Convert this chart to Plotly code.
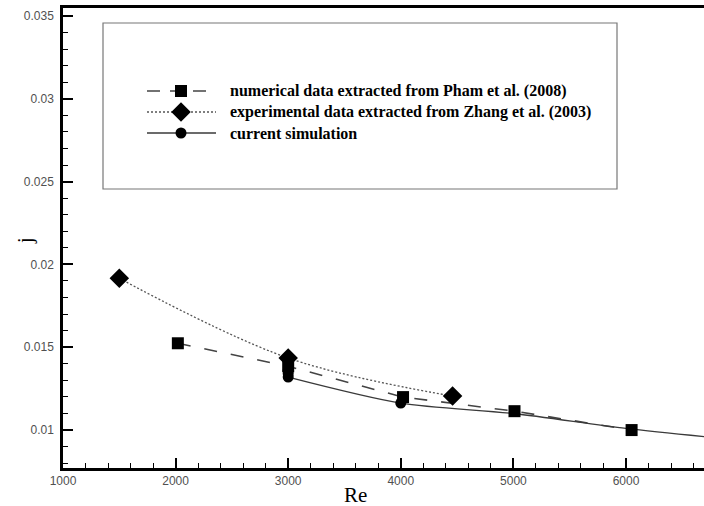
import plotly.graph_objects as go

# ---- data ----
pham_re = [2020, 3000, 4020, 5010, 6050]
pham_j = [0.01524, 0.01385, 0.01199, 0.01114, 0.01000]

zhang_re = [1500, 3000, 4460]
zhang_j = [0.01916, 0.01435, 0.01205]

sim_marker_re = [3000, 3000, 3000, 4000]
sim_marker_j = [0.01360, 0.01340, 0.01320, 0.01163]
sim_line_re = [3000, 4000, 5000, 6000, 7000]
sim_line_j = [0.01320, 0.01163, 0.01100, 0.01010, 0.00940]

x_ticks = [1000, 2000, 3000, 4000, 5000, 6000]
y_ticks = [0.01, 0.015, 0.02, 0.025, 0.03, 0.035]
y_tick_text = ["0.01", "0.015", "0.02", "0.025", "0.03", "0.035"]

legend_labels = [
    "numerical data extracted from Pham et al. (2008)",
    "experimental data extracted from Zhang et al. (2003)",
    "current simulation",
]

LINE = "#3a3a3a"

fig = go.Figure()

# data traces
fig.add_trace(go.Scatter(x=zhang_re, y=zhang_j, mode="lines", line=dict(color="#555555", width=1.3, dash="2px,2px", shape="spline", smoothing=1.0), showlegend=False))
fig.add_trace(go.Scatter(x=pham_re, y=pham_j, mode="lines", line=dict(color="#444444", width=1.6, dash="13px,14px"), showlegend=False))
fig.add_trace(go.Scatter(x=sim_line_re, y=sim_line_j, mode="lines", line=dict(color=LINE, width=1.3, shape="spline", smoothing=0.8), showlegend=False))
fig.add_trace(go.Scatter(x=sim_marker_re, y=sim_marker_j, mode="markers", marker=dict(symbol="circle", size=11, color="black"), showlegend=False))
fig.add_trace(go.Scatter(x=pham_re, y=pham_j, mode="markers", marker=dict(symbol="square", size=12, color="black"), showlegend=False))
fig.add_trace(go.Scatter(x=zhang_re, y=zhang_j, mode="markers", marker=dict(symbol="diamond", size=15, color="black"), showlegend=False))

# ---- hand-drawn legend (overlay axes in 0..1 plot-area units) ----
L, R, T, B = 63, 704, 8, 468
def px(X):
    return (X - L) / (R - L)
def py(Y):
    return (B - Y) / (B - T)

rows = [py(91), py(112), py(133)]
x0, xc, x1 = px(147), px(181), px(216)
fig.add_trace(go.Scatter(x=[x0, x1], y=[rows[0]] * 2, xaxis="x2", yaxis="y2", mode="lines",
                         line=dict(color="#444444", width=1.6, dash="13px,10px"), showlegend=False))
fig.add_trace(go.Scatter(x=[x0, x1], y=[rows[1]] * 2, xaxis="x2", yaxis="y2", mode="lines",
                         line=dict(color="#555555", width=1.3, dash="2px,2px"), showlegend=False))
fig.add_trace(go.Scatter(x=[x0, x1], y=[rows[2]] * 2, xaxis="x2", yaxis="y2", mode="lines",
                         line=dict(color=LINE, width=1.3), showlegend=False))
for r, sym, sz in zip(rows, ["square", "diamond", "circle"], [12, 15, 11]):
    fig.add_trace(go.Scatter(x=[xc], y=[r], xaxis="x2", yaxis="y2", mode="markers",
                             marker=dict(symbol=sym, size=sz, color="black"), showlegend=False))

annotations = []
for r, lab in zip(rows, legend_labels):
    annotations.append(dict(x=px(228), y=r, xref="paper", yref="paper", text="<b>" + lab + "</b>",
                            showarrow=False, xanchor="left", yanchor="middle",
                            font=dict(family="Liberation Serif", size=16, color="black")))
annotations.append(dict(x=px(355), y=(B - 495) / (B - T), xref="paper", yref="paper", text="Re",
                        showarrow=False, xanchor="center", yanchor="middle",
                        font=dict(family="Liberation Serif", size=21, color="black")))
annotations.append(dict(x=(25 - L) / (R - L), y=py(241), xref="paper", yref="paper", text="j",
                        showarrow=False, xanchor="center", yanchor="middle", textangle=-90,
                        font=dict(family="Liberation Serif", size=20, color="black")))

shapes = [dict(type="rect", xref="paper", yref="paper", x0=px(103), x1=px(617), y0=py(189), y1=py(23),
               line=dict(color="#777777", width=1.2), fillcolor="rgba(0,0,0,0)")]

fig.update_layout(
    width=704, height=506,
    margin=dict(l=L, r=0, t=T, b=506 - B, pad=0),
    paper_bgcolor="white", plot_bgcolor="white",
    showlegend=False,
    annotations=annotations, shapes=shapes,
    xaxis=dict(range=[1000, 6693], tickvals=x_ticks, ticks="inside", ticklen=10, tickwidth=2,
               tickcolor="black", showline=True, linecolor="black", linewidth=2.5, mirror=True,
               showgrid=False, zeroline=False,
               tickfont=dict(family="Liberation Sans", size=12, color="#505050"),
               minor=dict(dtick=200, tick0=1000, ticks="inside", ticklen=5, tickwidth=1, tickcolor="black", showgrid=False)),
    yaxis=dict(range=[0.00771, 0.03548], tickvals=y_ticks, ticktext=y_tick_text, ticks="inside", ticklen=10,
               tickwidth=2, tickcolor="black", showline=True, linecolor="black", linewidth=2.5,
               showgrid=False, zeroline=False, ticklabelstandoff=4,
               tickfont=dict(family="Liberation Sans", size=12, color="#505050"),
               minor=dict(dtick=0.001, tick0=0.01, ticks="inside", ticklen=5, tickwidth=1, tickcolor="black", showgrid=False)),
    xaxis2=dict(overlaying="x", range=[0, 1], visible=False, fixedrange=True),
    yaxis2=dict(overlaying="y", range=[0, 1], visible=False, fixedrange=True),
)

fig.write_html("out.html")
